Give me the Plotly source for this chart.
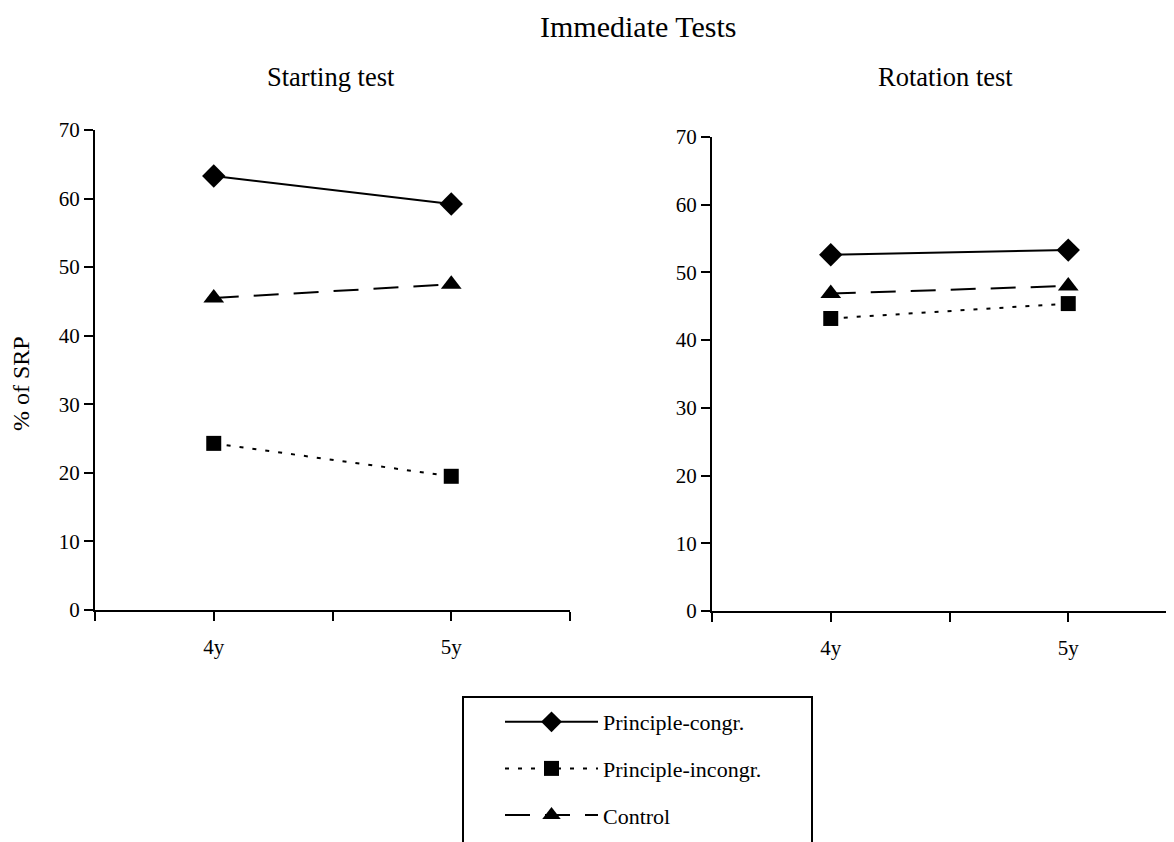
import plotly.graph_objects as go

ages = ["4y", "5y"]
series_names = ["Principle-congr.", "Principle-incongr.", "Control"]

starting_congr = [63.3, 59.2]
starting_incongr = [24.3, 19.5]
starting_control = [45.5, 47.5]

rotation_congr = [52.6, 53.3]
rotation_incongr = [43.2, 45.4]
rotation_control = [46.9, 48.0]

y_ticks = [0, 10, 20, 30, 40, 50, 60, 70]

W, H = 1174, 842
FONT = "Liberation Serif"
OX, OY = 8, 8  # page (body margin) offset compensation

styles = {
    "Principle-congr.": dict(dash="solid", symbol="diamond", size=18),
    "Principle-incongr.": dict(dash="4px,9px", symbol="square", size=15),
    "Control": dict(dash="25px,15px", symbol="triangle-up", size=18),
}

xs = list(range(len(ages)))

fig = go.Figure()

panels = [
    ("x", "y", [starting_congr, starting_incongr, starting_control], True),
    ("x2", "y2", [rotation_congr, rotation_incongr, rotation_control], False),
]
for xa, ya, vals, show in panels:
    for name, v in zip(series_names, vals):
        st = styles[name]
        fig.add_trace(go.Scatter(
            x=xs, y=v, name=name, mode="lines+markers",
            xaxis=xa, yaxis=ya, showlegend=show, legendgroup=name,
            line=dict(color="black", width=2, dash=st["dash"]),
            marker=dict(color="black", symbol=st["symbol"], size=st["size"]),
        ))

axis_common = dict(showgrid=False, zeroline=False, showline=True, linecolor="black",
                   linewidth=2, ticks="outside", tickcolor="black", tickwidth=2,
                   automargin=False,
                   ticklen=9, tickfont=dict(family=FONT, size=21, color="black"))

def px_x(p):
    return (p - OX) / W

def px_y(p):
    return 1 - (p - OY) / H

xtick_common = dict(tickvals=[-0.5, 0, 0.5, 1, 1.5], ticktext=["", ages[0], "", ages[1], ""],
                    ticklabelstandoff=8)

fig.update_layout(
    width=W, height=H,
    autosize=False,
    margin=dict(l=0, r=0, t=0, b=0, pad=0),
    paper_bgcolor="white", plot_bgcolor="white",
    font=dict(family=FONT, color="black"),
    xaxis=dict(domain=[px_x(95), px_x(570)], range=[-0.5, 1.5],
               anchor="y", **xtick_common, **axis_common),
    yaxis=dict(domain=[px_y(610), px_y(130)], range=[0, 70], tickvals=y_ticks,
               anchor="x", **axis_common),
    xaxis2=dict(domain=[px_x(712), 1.0], range=[-0.5, -0.5 + (W + OX - 712) / 237.5],
                anchor="y2", **xtick_common, **axis_common),
    yaxis2=dict(domain=[px_y(611), px_y(137)], range=[0, 70], tickvals=y_ticks,
                anchor="x2", **axis_common),
    legend=dict(x=px_x(500), y=px_y(701), xanchor="left", yanchor="top",
                font=dict(family=FONT, size=22, color="black"),
                itemwidth=93, tracegroupgap=15, bgcolor="rgba(0,0,0,0)",
                traceorder="grouped"),
    showlegend=True,
    annotations=[
        dict(text="Immediate Tests", x=px_x(638), y=px_y(27), xref="paper", yref="paper",
             xanchor="center", yanchor="middle",
             showarrow=False, font=dict(family=FONT, size=30)),
        dict(text="Starting test", x=px_x(331), y=px_y(77), xref="paper", yref="paper",
             xanchor="center", yanchor="middle",
             showarrow=False, font=dict(family=FONT, size=26.5)),
        dict(text="Rotation test", x=px_x(945), y=px_y(77), xref="paper", yref="paper",
             xanchor="center", yanchor="middle",
             showarrow=False, font=dict(family=FONT, size=26.5)),
        dict(text="% of SRP", x=px_x(21), y=px_y(384), xref="paper", yref="paper",
             xanchor="center", yanchor="middle", textangle=-90,
             showarrow=False, font=dict(family=FONT, size=24)),
    ],
    shapes=[
        dict(type="rect", xref="paper", yref="paper",
             x0=px_x(463), x1=px_x(812), y0=-0.1, y1=px_y(697),
             line=dict(color="black", width=2)),
    ],
)

fig.write_html("out.html")
